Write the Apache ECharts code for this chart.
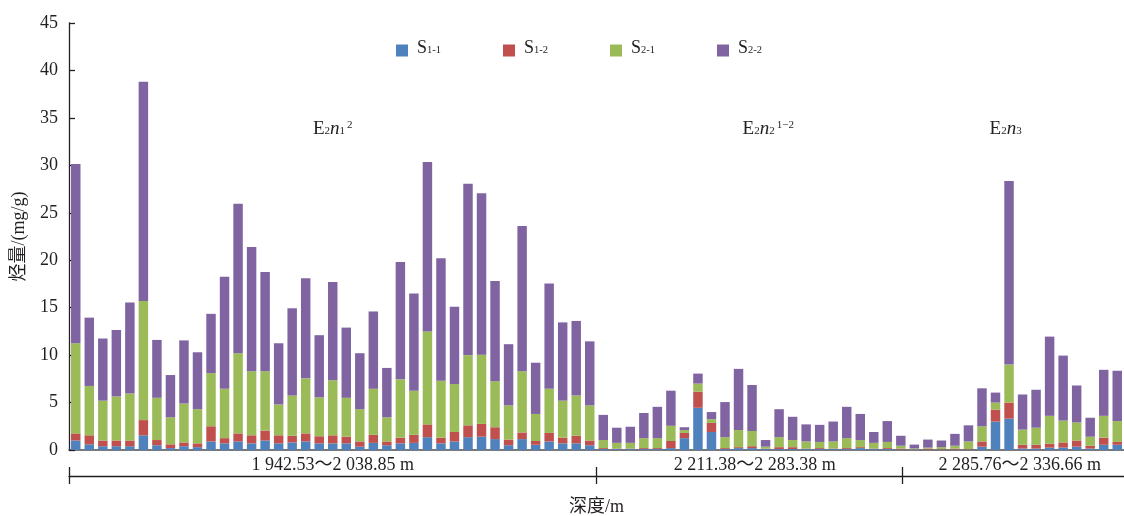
<!DOCTYPE html>
<html><head><meta charset="utf-8">
<script src="https://cdn.jsdelivr.net/npm/echarts@6/dist/echarts.min.js"></script>
<style>html,body{margin:0;padding:0;background:#fff}#c{width:1124px;height:516px}</style>
</head><body><div id="c"></div>
<script>
// ---------------- data ----------------
const seriesNames = ['S1-1', 'S1-2', 'S2-1', 'S2-2'];
const s11 = [1.0,0.6,0.4,0.4,0.4,1.55,0.5,0.2,0.4,0.3, 0.9,0.7,0.9,0.7,1.0,0.7,0.8,0.9,0.7,0.7, 0.7,0.35,0.75,0.5,0.7,0.75,1.35,0.7,0.9,1.35, 1.4,1.15,0.5,1.15,0.55,0.9,0.7,0.7,0.5,
  0.1,0.1,0.1,0.1,0.1,0.2,1.25,4.45,1.9,0.1, 0.2,0.2,0.1,0.1,0.1,0.1,0.1,0.1,0.1,0.2, 0.1,0.1,0.05,
  0.05,0.05,0.05,0.05,0.05,0.35,3.0,3.3,0.15,0.15, 0.25,0.25,0.35,0.15,0.55,0.55];
const s12 = [0.75,0.95,0.6,0.6,0.6,1.6,0.55,0.4,0.4,0.4, 1.6,0.55,0.85,0.85,1.05,0.85,0.7,0.85,0.75,0.85, 0.7,0.55,0.85,0.4,0.6,0.85,1.35,0.6,1.0,1.25, 1.35,1.25,0.6,0.7,0.4,0.9,0.6,0.8,0.5,
  0.1,0.05,0.05,0.1,0.1,0.75,0.55,1.7,0.95,0.1, 0.1,0.2,0.05,0.2,0.2,0.05,0.1,0.05,0.1,0.1, 0.05,0.1,0.1,
  0.02,0.1,0.05,0.1,0.05,0.55,1.25,1.7,0.4,0.4, 0.4,0.55,0.65,0.3,0.75,0.3];
const s21 = [9.5,5.2,4.2,4.65,4.95,12.55,4.45,2.85,4.1,3.6, 5.6,5.2,8.45,6.75,6.25,3.25,4.25,5.8,4.1,5.8, 4.1,3.4,4.85,2.55,6.15,4.65,9.8,6.0,5.05,7.4, 7.3,4.85,3.6,6.45,2.85,4.65,3.9,4.25,3.7,
  0.85,0.6,0.6,1.05,1.05,1.6,0.3,0.85,0.4,1.15, 1.8,1.6,0.2,1.05,0.75,0.75,0.65,0.75,1.05,0.75, 0.6,0.65,0.3,
  0.1,0.1,0.2,0.3,0.8,1.6,0.75,4.0,1.6,1.8, 2.95,2.3,1.9,0.95,2.3,2.2];
const s22 = [18.9,7.2,6.55,7.0,9.6,23.1,6.1,4.45,6.65,6.0, 6.25,11.8,15.75,13.1,10.45,6.45,9.2,10.55,6.55,10.35, 7.4,5.9,8.15,5.2,12.35,10.25,17.85,12.9,8.15,18.05, 17.0,10.55,6.45,15.3,5.4,11.1,8.25,7.85,6.75,
  2.65,1.6,1.7,2.65,3.3,3.7,0.3,1.05,0.75,3.7, 6.45,4.85,0.7,2.95,2.45,1.8,1.8,2.1,3.3,2.75, 1.15,2.2,1.05,
  0.4,0.85,0.7,1.25,1.7,4.0,1.05,19.35,3.7,4.0, 8.35,6.85,3.9,2.0,4.85,5.3];
const categories = s11.map((_, i) => String(i + 1));   // sample order
const yMin = 0, yMax = 45, yInterval = 5;
const sectionBounds = [0, 39, 61.6];
const sectionLabels = ['1 942.53～2 038.85 m', '2 211.38～2 283.38 m', '2 285.76～2 336.66 m'];
const sectionLabelPos = [19.5, 50.7, 70.3];
const formationLabels = ['{m|E}{sub|2}{it|n}{sub|1}{sup|2}', '{m|E}{sub|2}{it|n}{sub|2}{sup|1−2}', '{m|E}{sub|2}{it|n}{sub|3}'];
const formationLabelPos = [19.5, 51.7, 69.25];
const formationLabelY = 33.6;
const colors = ['#4F81BD', '#C0504D', '#9BBB59', '#8064A2'];

// ---------------- chart ----------------
const FONT = '"Liberation Serif", "Times New Roman", "Noto Sans CJK SC", serif';
const TXT = '#231f20';
const chart = echarts.init(document.getElementById('c'), null, {renderer: 'canvas'});
const seriesData = [s11, s12, s21, s22];

const option = {
  animation: false,
  backgroundColor: '#fff',
  color: colors,
  textStyle: {fontFamily: FONT, color: TXT},
  grid: {left: 69, right: 0, top: 23, bottom: 66, containLabel: false, outerBoundsMode: 'none'},
  legend: {
    data: seriesNames,
    left: 391, top: 34,
    itemWidth: 12, itemHeight: 12, itemGap: 62,
    icon: 'rect',
    formatter: name => '{m|S}{sub|' + name.slice(1) + '}',
    textStyle: {
      fontFamily: FONT, color: TXT, padding: [0, 0, 0, 4],
      rich: {
        m: {fontSize: 18, fontFamily: FONT, color: TXT, padding: [0, 0, 5, 0]},
        sub: {fontSize: 10.5, fontFamily: FONT, color: TXT}
      }
    }
  },
  xAxis: [
    {
      type: 'category', data: categories, gridIndex: 0,
      axisLine: {show: true, lineStyle: {color: '#4d4d4d', width: 1.5}},
      axisTick: {show: false}, axisLabel: {show: false}, splitLine: {show: false}
    },
    {
      type: 'value', min: 0, max: categories.length, gridIndex: 0, position: 'bottom', offset: 26,
      axisLine: {show: true, onZero: false, lineStyle: {color: TXT, width: 1.3}},
      axisTick: {show: true, customValues: sectionBounds, length: 8, inside: false, lineStyle: {color: TXT, width: 1.3}},
      axisLabel: {show: true, inside: true, customValues: sectionLabelPos, margin: 2,
        formatter: v => sectionLabels[sectionLabelPos.indexOf(v)] || '',
        fontFamily: FONT, fontSize: 18, color: TXT},
      splitLine: {show: false},
      name: '深度/m', nameLocation: 'middle', nameGap: 22,
      nameTextStyle: {fontFamily: FONT, fontSize: 18, color: TXT}
    },
    {
      type: 'value', min: 0, max: categories.length, gridIndex: 0, position: 'bottom', offset: 26,
      axisLine: {show: false, onZero: false},
      axisTick: {show: true, customValues: sectionBounds, length: 9, inside: true, lineStyle: {color: TXT, width: 1.3}},
      axisLabel: {show: false}, splitLine: {show: false}
    }
  ],
  yAxis: {
    type: 'value', min: yMin, max: yMax, interval: yInterval,
    axisLine: {show: true, lineStyle: {color: TXT, width: 1.3}},
    axisTick: {show: true, inside: true, length: 6, lineStyle: {color: TXT, width: 1.3}},
    axisLabel: {fontFamily: FONT, fontSize: 18, color: TXT, margin: 11},
    splitLine: {show: false},
    name: '烃量/(mg/g)', nameLocation: 'middle', nameGap: 41, nameRotate: 90,
    nameTextStyle: {fontFamily: FONT, fontSize: 18, color: TXT}
  },
  series: seriesNames.map((n, k) => ({
    name: n, type: 'bar', stack: 'total', xAxisIndex: 0, yAxisIndex: 0,
    data: seriesData[k], barWidth: '70%',
    itemStyle: {color: colors[k]}
  }))
};
chart.setOption(option);

// formation labels positioned through the axes' scales
const graphics = formationLabels.map((t, i) => {
  const x = chart.convertToPixel({xAxisIndex: 1}, formationLabelPos[i]);
  const y = chart.convertToPixel({yAxisIndex: 0}, formationLabelY);
  return {
    type: 'text', x: x, y: y, z: 100,
    style: {
      text: t, align: 'center', verticalAlign: 'middle',
      fontFamily: FONT, fontSize: 19, fill: TXT,
      rich: {
        m: {fontSize: 19, fontFamily: FONT, fill: TXT, padding: [0, 0, 5, 0]},
        sub: {fontSize: 11, fontFamily: FONT, fill: TXT},
        sup: {fontSize: 11, fontFamily: FONT, fill: TXT, verticalAlign: 'top', padding: [0, 0, 0, 2]},
        it: {fontSize: 19, fontFamily: FONT, fontStyle: 'italic', fill: TXT, padding: [0, 0, 5, 0]}
      }
    }
  };
});
chart.setOption({graphic: graphics});
</script>
</body></html>
